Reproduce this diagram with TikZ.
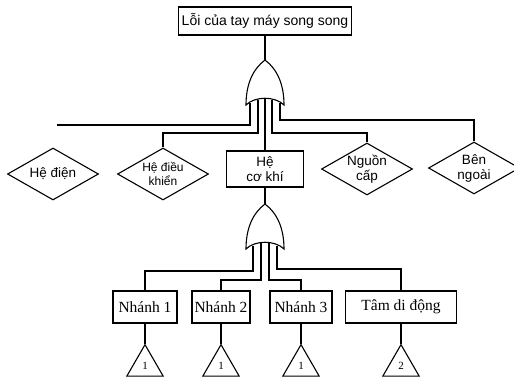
\documentclass[tikz,border=0pt]{standalone}
\usepackage{fontspec}
\setmainfont{Liberation Serif}
\setsansfont{Liberation Sans}
\usetikzlibrary{positioning, shapes.geometric}

\tikzset{
  orgate/.pic={
    \draw (0,0) .. controls (-12,9) and (-19,24) .. (-19,45)
      .. controls (-10,36) and (10,36) .. (19,45)
      .. controls (19,24) and (12,9) .. cycle;
  },
  box/.style={draw, rectangle, inner sep=2pt, align=center},
  event/.style={draw, diamond, aspect=1.75, inner sep=0pt, align=center,
    minimum width=91pt, minimum height=52pt,
    font=\sffamily\fontsize{13.5}{15}\selectfont},
  branch/.style={box, minimum height=32pt, font=\fontsize{15.5}{18}\selectfont},
  transfer/.style={draw, regular polygon, regular polygon sides=3,
    minimum size=42pt, inner sep=0pt, font=\fontsize{11}{12}\selectfont}
}

\begin{document}
\begin{tikzpicture}[x=1pt, y=-1pt, line width=1.1pt]
  \useasboundingbox (0,0) rectangle (514,380);

  % top event and its gate
  \node[box, minimum width=173pt, minimum height=28pt,
    font=\sffamily\fontsize{14}{16}\selectfont] (top) at (265,21) {Lỗi của tay máy song song};
  \coordinate (g1) at (265,60);
  \pic at (g1) {orgate};
  \draw (top.south) -- (g1);

  \node[event] (hedien) at (53,174) {Hệ điện};
  \node[event, font=\sffamily\fontsize{12}{14}\selectfont] (hedk) at (163,174) {Hệ điều\\khiển};
  \node[box, minimum width=77pt, minimum height=36pt,
    font=\sffamily\fontsize{13.5}{15}\selectfont] (heck) at (265,169) {Hệ\\cơ khí};
  \node[event] (nguon) at (367,169) {Nguồn\\cấp};
  \node[event] (bngoai) at (474,168) {Bên\\ngoài};

  \coordinate (g1a) at (250,103);
  \coordinate (g1b) at (258,99.5);
  \coordinate (g1c) at (265,98.3);
  \coordinate (g1d) at (272,99.5);
  \coordinate (g1e) at (280,103);
  \coordinate (hdend) at (57,125);

  \draw (g1a) |- (hdend);
  \draw (g1b) -- (g1b |- 0,133) -| (hedk.north);
  \draw (g1c) -- (heck.north);
  \draw (g1d) -- (g1d |- 0,133) -| (nguon.north);
  \draw (g1e) -- (g1e |- 0,120) -| (bngoai.north);

  % gate under the mechanical part
  \coordinate (g2) at (265,204);
  \pic at (g2) {orgate};
  \draw (heck.south) -- (g2);

  \foreach \nm/\x/\w/\txt/\k in {n1/145/64/Nhánh 1/1, n2/221/58/Nhánh 2/1,
                                  n3/301/62/Nhánh 3/1, tam/401/111/Tâm di động/2} {
    \node[branch, minimum width=\w] (\nm) at (\x,307) {\txt};
    \node[transfer, below=20pt of \nm] (t\nm) {\k};
    \draw (\nm) -- (t\nm);
  }

  \coordinate (g2a) at (253,245.5);
  \coordinate (g2b) at (261,242.6);
  \coordinate (g2c) at (269,242.6);
  \coordinate (g2d) at (277,245.5);

  \draw (g2a) -- (g2a |- 0,271) -| (n1.north);
  \draw (g2b) -- (g2b |- 0,280) -| (n2.north);
  \draw (g2c) -- (g2c |- 0,280) -| (n3.north);
  \draw (g2d) -- (g2d |- 0,269) -| (tam.north);
\end{tikzpicture}
\end{document}
